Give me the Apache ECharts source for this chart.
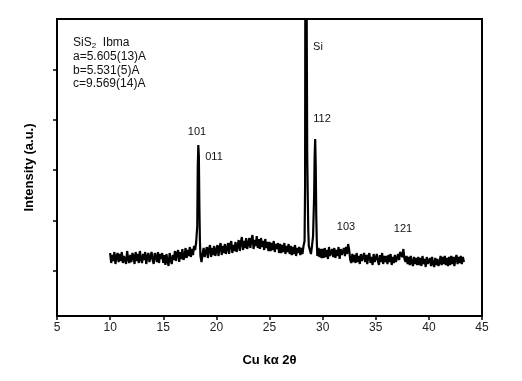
<!DOCTYPE html>
<html>
<head>
<meta charset="utf-8">
<script src="https://cdn.jsdelivr.net/npm/echarts@6/dist/echarts.min.js"></script>
<style>html,body{margin:0;padding:0;background:#fff}#c{width:522px;height:381px}</style>
</head>
<body>
<div id="c"></div>
<script>
// X-ray powder scan: 2θ grid from 10.0° to 43.3° in 0.1° steps
var scanStart = 10.0;
var scanStep = 0.1;
var scanCounts = [
  63,53,61,55,64,52,60,63,54,62,
  55,64,53,60,62,52,65,57,53,61,
  54,63,60,52,64,55,62,53,65,57,
  53,62,56,64,52,60,63,54,59,64,
  56,52,63,60,54,64,53,62,57,63,
  53,61,51,62,55,50,63,56,52,61,
  56,65,55,63,66,54,64,57,67,56,
  59,68,58,66,60,69,59,67,61,70,
  66,74,90,171,110,60,54,62,68,59,
  60,69,58,67,71,59,68,61,70,60,
  62,71,60,69,73,61,70,63,72,62,
  64,73,62,72,75,63,71,65,74,64,
  66,76,65,74,79,66,75,68,78,67,
  68,78,68,77,81,67,76,70,80,68,
  77,67,78,69,75,66,77,68,74,65,
  74,65,73,66,75,64,72,67,73,63,
  72,63,71,64,73,62,70,64,72,62,
  70,61,69,62,71,60,68,63,69,61,
  68,62,70,75,600,300,120,70,66,62,
  70,80,120,177,100,60,68,59,67,58,
  67,58,68,59,66,57,69,60,58,67,
  59,68,58,66,60,69,57,67,61,59,
  68,60,69,62,72,66,56,53,62,54,
  61,53,63,54,60,52,62,55,53,63,
  54,61,52,60,63,53,59,51,62,54,
  53,62,55,51,61,54,63,52,60,54,
  60,52,61,54,62,51,59,53,61,54,
  55,62,56,64,66,59,67,57,54,60,
  52,59,51,60,53,50,59,52,58,51,
  59,51,58,50,60,52,57,49,59,52,
  51,58,50,59,52,49,58,51,57,50,
  53,60,51,59,52,60,51,58,50,59,
  51,60,52,59,50,58,61,52,59,53,
  60,52,59,54
];
// extra finely sampled points across the sharp reflections
var peakAngles = [18.25, 18.35, 18.45, 28.35, 28.45, 28.55, 28.65, 29.25, 29.35, 29.45];
var peakCounts = [150, 160, 75, 130, 600, 160, 85, 160, 150, 75];

var xTicks = [5, 10, 15, 20, 25, 30, 35, 40, 45];
var yTickValues = [45, 95, 146, 196, 246];

var infoLines = ['a=5.605(13)A', 'b=5.531(5)A', 'c=9.569(14)A'];
var peakLabels = ['101', '011', 'Si', '112', '103', '121'];

var pts = [];
for (var i = 0; i < scanCounts.length; i++) {
  pts.push([+(scanStart + i * scanStep).toFixed(2), scanCounts[i]]);
}
for (var j = 0; j < peakAngles.length; j++) pts.push([peakAngles[j], peakCounts[j]]);
pts.sort(function (a, b) { return a[0] - b[0]; });

var chart = echarts.init(document.getElementById('c'), null, {renderer: 'canvas'});
var txtFont = '12px "Liberation Sans", Arial, sans-serif';
var lblFont = '11px "Liberation Sans", Arial, sans-serif';
function t(x, y, s, font, align) {
  return {type: 'text', x: x, y: y, z: 10, silent: true,
    style: {text: s, font: font, fill: '#111', textAlign: align || 'left', textVerticalAlign: 'middle'}};
}
chart.setOption({
  animation: false,
  backgroundColor: '#fff',
  grid: {left: 57, right: 40, top: 19, bottom: 65, show: true, borderColor: '#000', borderWidth: 2, backgroundColor: 'transparent'},
  xAxis: {
    type: 'value', min: xTicks[0], max: xTicks[xTicks.length - 1], interval: 5,
    name: 'Cu kα 2θ', nameLocation: 'middle', nameGap: 38,
    nameTextStyle: {fontFamily: '"Liberation Sans", Arial', fontWeight: 'bold', fontSize: 13, color: '#000'},
    axisLine: {lineStyle: {color: '#000', width: 2}},
    axisTick: {show: true, length: 4, lineStyle: {color: '#000', width: 1.5}},
    axisLabel: {fontFamily: '"Liberation Sans", Arial', fontSize: 12, color: '#222', margin: 6},
    splitLine: {show: false}
  },
  yAxis: {
    type: 'value', min: 0, max: 297,
    name: 'Intensity (a.u.)', nameLocation: 'middle', nameGap: 21,
    nameTextStyle: {fontFamily: '"Liberation Sans", Arial', fontWeight: 'bold', fontSize: 13, color: '#000'},
    axisLine: {show: true, lineStyle: {color: '#000', width: 2}},
    axisTick: {show: true, length: 4, customValues: yTickValues, lineStyle: {color: '#000', width: 1.5}},
    axisLabel: {show: false},
    splitLine: {show: false}
  },
  series: [{
    type: 'line', data: pts, showSymbol: false, clip: true, sampling: 'none',
    lineStyle: {color: '#000', width: 2.2}
  }],
  graphic: [
    {type: 'text', x: 73, y: 43, z: 10, silent: true,
      style: {text: 'SiS{s|2}  Ibma', font: txtFont, fill: '#111', textVerticalAlign: 'middle',
        rich: {s: {fontSize: 8, fontFamily: '"Liberation Sans", Arial', fill: '#111', padding: [5, 0, 0, 0]}}}},
    t(73, 57, infoLines[0], txtFont),
    t(73, 71, infoLines[1], txtFont),
    t(73, 84, infoLines[2], txtFont),
    t(197, 132, peakLabels[0], lblFont, 'center'),
    t(214, 157, peakLabels[1], lblFont, 'center'),
    t(318, 47, peakLabels[2], lblFont, 'center'),
    t(322, 119, peakLabels[3], lblFont, 'center'),
    t(346, 227, peakLabels[4], lblFont, 'center'),
    t(403, 229, peakLabels[5], lblFont, 'center')
  ]
});
</script>
</body>
</html>
